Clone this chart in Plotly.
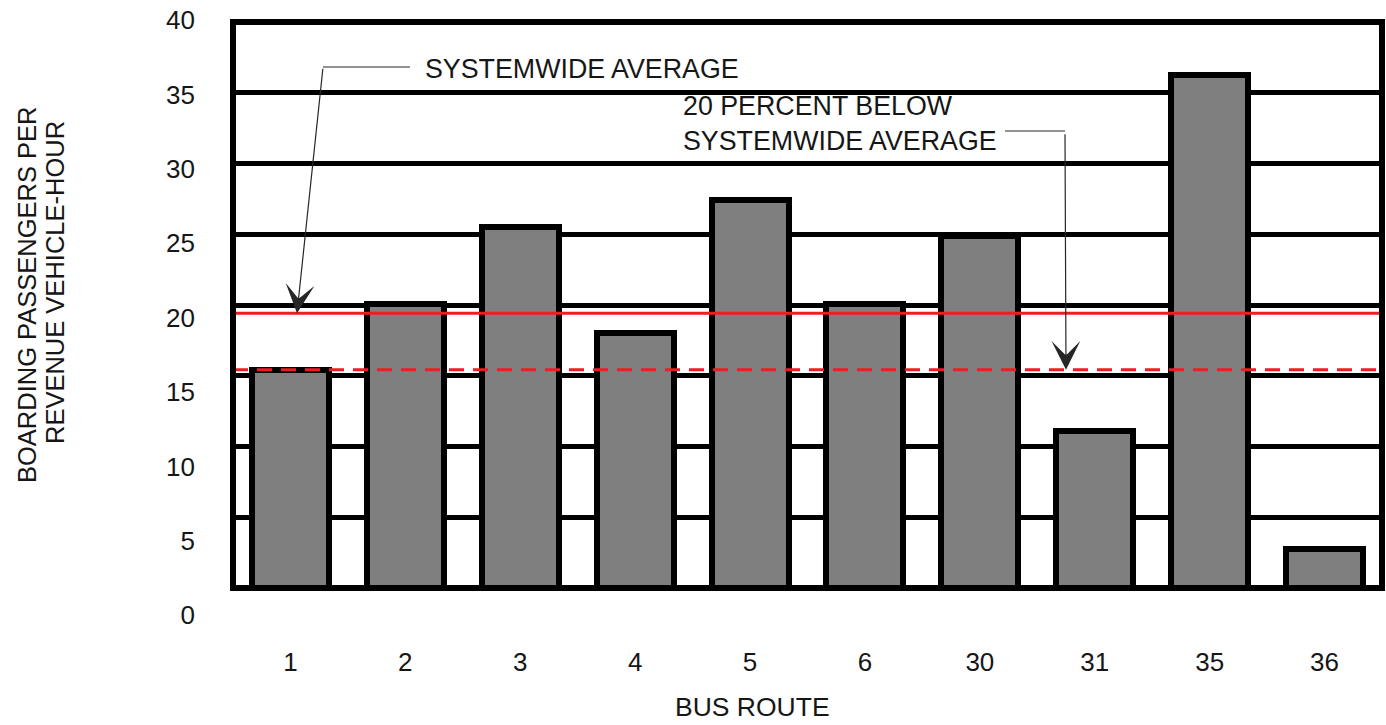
import plotly.graph_objects as go

# ---- data -------------------------------------------------------------
routes = ["1", "2", "3", "4", "5", "6", "30", "31", "35", "36"]
boardings_per_hour = [16.5, 20.9, 26.1, 19.0, 27.9, 20.9, 25.5, 12.4, 36.3, 4.45]
systemwide_average = 20.3
below_average_threshold = 16.5
y_tick_values = [0, 5, 10, 15, 20, 25, 30, 35, 40]

# ---- page geometry (pixels) -----------------------------------------
W, H = 1386, 725


def fx(px):
    return px / W


def fy(px):
    return 1 - px / H


FRAME_LEFT, FRAME_RIGHT = 233, 1382
FRAME_TOP, FRAME_BOTTOM = 22, 588
LABEL_ZERO_PX, LABEL_FORTY_PX = 615.3, 20.0

# the value axis shares one scale with the labelled axis
px_per_unit = (LABEL_ZERO_PX - LABEL_FORTY_PX) / 40.0
y_lo = (LABEL_ZERO_PX - FRAME_BOTTOM) / px_per_unit
y_hi = (LABEL_ZERO_PX - FRAME_TOP) / px_per_unit
grid_vals = [y_lo + k * (y_hi - y_lo) / 8 for k in range(1, 8)]

FONT = "Liberation Sans, Arial, sans-serif"
TEXT = "#161616"
RED = "#ee1d23"
ARROW = "#262626"

fig = go.Figure()

fig.add_trace(go.Bar(
    x=routes,
    y=boardings_per_hour,
    width=0.67,
    marker=dict(color="#7f7f7f", line=dict(color="black", width=6)),
    hoverinfo="x+y",
    showlegend=False,
))

# carrier for the labelled value axis
fig.add_trace(go.Scatter(x=[], y=[], yaxis="y2", showlegend=False, hoverinfo="skip"))

shapes = [
    # systemwide average
    dict(type="line", xref="x domain", x0=0, x1=1, yref="y",
         y0=systemwide_average, y1=systemwide_average,
         line=dict(color=RED, width=3), layer="above"),
    # 20 percent below systemwide average
    dict(type="line", xref="x domain", x0=0, x1=1, yref="y",
         y0=below_average_threshold, y1=below_average_threshold,
         line=dict(color=RED, width=3, dash="15px,9px"), layer="above"),
    # plot frame
    dict(type="rect", xref="x domain", yref="y domain", x0=0, x1=1, y0=0, y1=1,
         line=dict(color="black", width=6), layer="above"),
    # callout leader segments
    dict(type="line", xref="paper", yref="paper",
         x0=fx(410), y0=fy(67), x1=fx(323), y1=fy(67),
         line=dict(color=ARROW, width=1.2), layer="above"),
    dict(type="line", xref="paper", yref="paper",
         x0=fx(1005), y0=fy(131), x1=fx(1065), y1=fy(131),
         line=dict(color=ARROW, width=1.2), layer="above"),
]

annotations = [
    dict(text="SYSTEMWIDE AVERAGE", xref="paper", yref="paper",
         x=fx(423), y=fy(69), xanchor="left", yanchor="middle",
         showarrow=False, font=dict(family=FONT, size=26.8, color=TEXT)),
    dict(text="20 PERCENT BELOW<br>SYSTEMWIDE AVERAGE", xref="paper", yref="paper",
         x=fx(681), y=fy(123), xanchor="left", yanchor="middle", align="left",
         showarrow=False, font=dict(family=FONT, size=26.8, color=TEXT)),
    # arrows pointing at the two reference lines
    dict(text="", xref="paper", yref="y", x=fx(297), y=systemwide_average,
         ax=26, ay=-246, axref="pixel", ayref="pixel", showarrow=True,
         arrowhead=3, arrowsize=4.0, arrowwidth=1.2, arrowcolor=ARROW, standoff=0),
    dict(text="", xref="paper", yref="y", x=fx(1066), y=below_average_threshold,
         ax=-1, ay=-237, axref="pixel", ayref="pixel", showarrow=True,
         arrowhead=3, arrowsize=4.0, arrowwidth=1.2, arrowcolor=ARROW, standoff=0),
    # axis titles
    dict(text="BOARDING PASSENGERS PER", xref="paper", yref="paper",
         x=fx(27), y=fy(295), textangle=-90, showarrow=False,
         xanchor="center", yanchor="middle",
         font=dict(family=FONT, size=25.5, color=TEXT)),
    dict(text="REVENUE VEHICLE-HOUR", xref="paper", yref="paper",
         x=fx(55), y=fy(283), textangle=-90, showarrow=False,
         xanchor="center", yanchor="middle",
         font=dict(family=FONT, size=25.5, color=TEXT)),
    dict(text="BUS ROUTE", xref="paper", yref="paper",
         x=fx(752), y=fy(707), showarrow=False, xanchor="center", yanchor="middle",
         borderpad=0,
         font=dict(family=FONT, size=26.5, color=TEXT)),
]

fig.update_layout(
    width=W, height=H,
    autosize=False,
    margin=dict(l=0, r=0, t=0, b=0),
    paper_bgcolor="white",
    plot_bgcolor="rgba(0,0,0,0)",
    bargap=0,
    shapes=shapes,
    annotations=annotations,
    xaxis=dict(
        domain=[fx(FRAME_LEFT), fx(FRAME_RIGHT)],
        type="category",
        categoryorder="array", categoryarray=routes,
        range=[-0.5, len(routes) - 0.5],
        showgrid=False, zeroline=False, showline=False, ticks="",
        ticklabelstandoff=56,
        tickfont=dict(family=FONT, size=26, color=TEXT),
        automargin=False, fixedrange=True,
    ),
    yaxis=dict(
        domain=[fy(FRAME_BOTTOM), fy(FRAME_TOP)],
        range=[y_lo, y_hi],
        tickmode="array", tickvals=grid_vals,
        showticklabels=False, ticks="",
        showgrid=True, gridcolor="black", gridwidth=4.5,
        zeroline=False, showline=False,
        automargin=False, fixedrange=True,
    ),
    yaxis2=dict(
        domain=[fy(LABEL_ZERO_PX), fy(LABEL_FORTY_PX)],
        range=[0, 40],
        anchor="free", position=fx(195), side="left",
        tickmode="array", tickvals=y_tick_values,
        showgrid=False, zeroline=False, showline=False, ticks="",
        tickfont=dict(family=FONT, size=26, color=TEXT),
        automargin=False, fixedrange=True,
    ),
)

fig.write_html("out.html")
